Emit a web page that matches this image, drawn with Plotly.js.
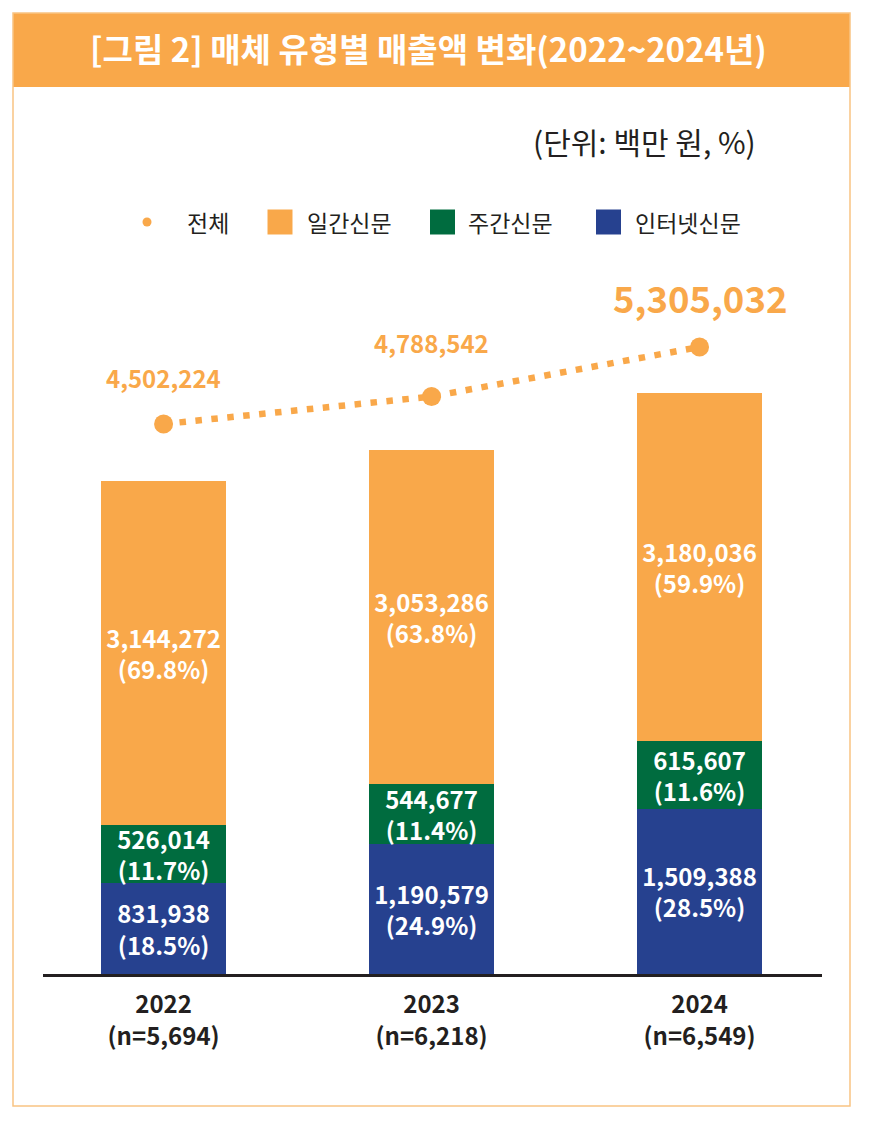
<!DOCTYPE html>
<html>
<head>
<meta charset="utf-8">
<script src="https://cdn.plot.ly/plotly-3.0.1.min.js"></script>
<style>
html,body{margin:0;padding:0;background:#fff;}
#chart{width:872px;height:1137px;}
</style>
</head>
<body>
<div id="chart"></div>
<script>
// ---- data ----
const years = ['2022', '2023', '2024'];
const sampleN = ['5,694', '6,218', '6,549'];
const internet = [831938, 1190579, 1509388];
const weekly = [526014, 544677, 615607];
const daily = [3144272, 3053286, 3180036];
const internetPct = [18.5, 24.9, 28.5];
const weeklyPct = [11.7, 11.4, 11.6];
const dailyPct = [69.8, 63.8, 59.9];
const total = [4502224, 4788542, 5305032];
const seriesNames = ['전체', '일간신문', '주간신문', '인터넷신문'];
const titleText = '[그림 2] 매체 유형별 매출액 변화(2022~2024년)';
const unitText = '(단위: 백만 원, %)';

// ---- style ----
const FONT = '"Noto Sans CJK KR", "Noto Sans", sans-serif';
const ORANGE = '#F9A84A';
const GREEN = '#006C3F';
const BLUE = '#26418F';
const DARK = '#231F20';
const W = 872, H = 1137;
const L = 43, R = 822, T = 250, B = 974;
const px = x => (x - L) / (R - L);
const py = y => (B - y) / (B - T);

const barText = {family: FONT, size: 24, color: '#FFFFFF', weight: 'bold'};
function barTrace(name, vals, pct, color) {
  return {
    type: 'bar', name: name, x: years, y: vals, customdata: pct,
    marker: {color: color, line: {width: 0}},
    width: 0.466,
    texttemplate: '%{y:,}<br>(%{customdata:.1f}%)',
    textposition: 'inside', insidetextanchor: 'middle',
    constraintext: 'none', textangle: 0,
    textfont: barText, hoverinfo: 'skip', showlegend: false
  };
}

const traces = [
  barTrace(seriesNames[3], internet, internetPct, BLUE),
  barTrace(seriesNames[2], weekly, weeklyPct, GREEN),
  barTrace(seriesNames[1], daily, dailyPct, ORANGE),
  {
    type: 'scatter', mode: 'lines+markers', name: seriesNames[0],
    x: years, y: total, yaxis: 'y2',
    line: {color: ORANGE, width: 6.5, dash: '6.5px,9.5px'},
    marker: {color: ORANGE, size: 19},
    hoverinfo: 'skip', showlegend: false, cliponaxis: false
  }
];

const totalSizes = [24, 24, 36.5];
const totalShift = [47, 54, 50];
const annotations = total.map((v, i) => ({
  xref: 'x', yref: 'y2', x: i, y: v,
  text: '<b>' + v.toLocaleString('en-US') + '</b>',
  showarrow: false, yshift: totalShift[i], xanchor: 'center', yanchor: 'middle',
  font: {family: FONT, size: totalSizes[i], color: ORANGE}
}));

annotations.push({
  xref: 'paper', yref: 'paper', x: px(758), y: py(141),
  text: unitText, showarrow: false, xanchor: 'right', yanchor: 'middle',
  font: {family: FONT, size: 30, color: DARK}
});

// legend (custom drawn)
const legendColors = [ORANGE, ORANGE, GREEN, BLUE];
const legendIconX = [147, 280, 442.5, 608.5];
const legendTextX = [185, 305, 466, 633];
const legendY = 222;
const shapes = [
  {type: 'rect', xref: 'paper', yref: 'paper', x0: px(13), x1: px(850), y0: py(13), y1: py(87),
   fillcolor: ORANGE, line: {width: 0}, layer: 'below'},
  {type: 'rect', xref: 'paper', yref: 'paper', x0: px(13), x1: px(850), y0: py(13), y1: py(1106),
   fillcolor: 'rgba(0,0,0,0)', line: {width: 1.5, color: '#F9C483'}, layer: 'below'}
];
seriesNames.forEach((n, i) => {
  if (i === 0) {
    shapes.push({type: 'circle', xref: 'paper', yref: 'paper',
      x0: px(legendIconX[i] - 4.5), x1: px(legendIconX[i] + 4.5),
      y0: py(legendY - 4.5), y1: py(legendY + 4.5),
      fillcolor: legendColors[i], line: {width: 0}});
  } else {
    shapes.push({type: 'rect', xref: 'paper', yref: 'paper',
      x0: px(legendIconX[i] - 12.5), x1: px(legendIconX[i] + 12.5),
      y0: py(legendY - 12.5), y1: py(legendY + 12.5),
      fillcolor: legendColors[i], line: {width: 0}});
  }
  annotations.push({xref: 'paper', yref: 'paper', x: px(legendTextX[i]), y: py(legendY),
    text: n, showarrow: false, xanchor: 'left', yanchor: 'middle',
    font: {family: FONT, size: 23, color: DARK}});
});

const layout = {
  width: W, height: H,
  margin: {l: L, r: W - R, t: T, b: H - B, pad: 0},
  paper_bgcolor: '#FFFFFF', plot_bgcolor: 'rgba(0,0,0,0)',
  barmode: 'stack', bargap: 0,
  showlegend: false,
  title: {
    text: '<b>' + titleText + '</b>',
    x: 431.5 / W, y: 1 - 50 / H, xref: 'paper', yref: 'container',
    xanchor: 'center', yanchor: 'middle',
    font: {family: FONT, size: 33, color: '#FFFFFF'}
  },
  xaxis: {
    type: 'category', range: [-0.45, 2.457], fixedrange: true,
    tickvals: years,
    ticktext: years.map((y, i) => '<b>' + y + '</b><br><b>(n=' + sampleN[i] + ')</b>'),
    tickfont: {family: FONT, size: 24, color: DARK},
    ticks: 'outside', ticklen: 8, tickcolor: 'rgba(0,0,0,0)',
    showline: true, linecolor: DARK, linewidth: 2.5,
    showgrid: false, zeroline: false
  },
  yaxis: {range: [0, 6610700], visible: false, fixedrange: true, showgrid: false, zeroline: false},
  yaxis2: {range: [-1232920, 6316610], overlaying: 'y', visible: true, side: 'right',
           showticklabels: false, showline: false, ticks: '', fixedrange: true,
           showgrid: false, zeroline: false},
  shapes: shapes,
  annotations: annotations
};

Plotly.newPlot('chart', traces, layout, {displayModeBar: false, staticPlot: true});
</script>
</body>
</html>
